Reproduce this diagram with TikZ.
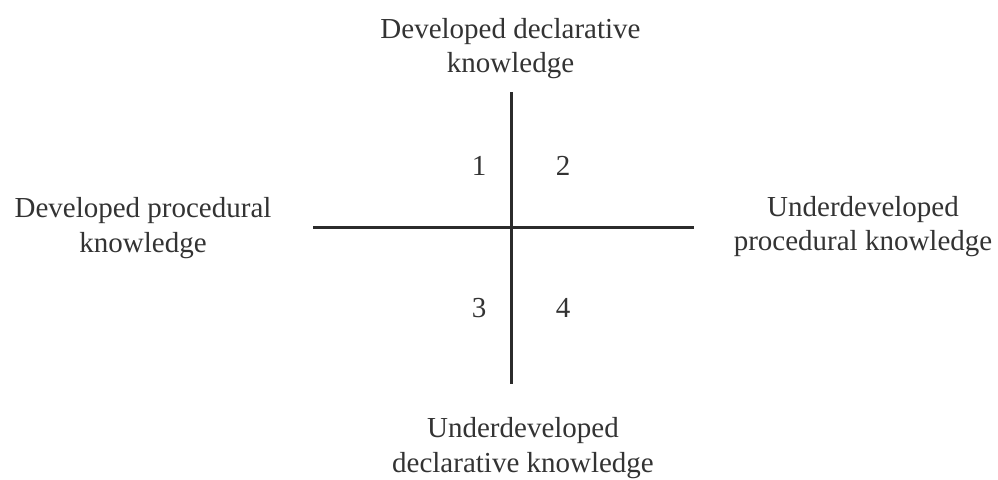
\documentclass[tikz,border=0pt]{standalone}
\usepackage{fontspec}
\setmainfont{Liberation Serif}
\definecolor{ink}{HTML}{333333}
\definecolor{axis}{HTML}{2B2B2B}
\begin{document}
\begin{tikzpicture}[x=1pt,y=-1pt,
  lbl/.style={inner sep=0pt, align=center, text=ink, font=\fontsize{29}{34.5}\selectfont},
  num/.style={inner sep=0pt, anchor=base, text=ink, font=\fontsize{29}{34.5}\selectfont},
  axisline/.style={draw=axis, line width=3pt}]
\useasboundingbox (0,0) rectangle (998,479);
\coordinate (vtop) at (511,92);
\coordinate (vbot) at (511,384);
\coordinate (hl) at (313,227);
\coordinate (hr) at (694,227);
\draw[axisline] (vtop) -- (vbot);
\draw[axisline] (hl) -- (hr);
\node[lbl] (top) at (510.5,48.5) {Developed declarative\\knowledge};
\node[lbl] (left) at (143,228.2) {Developed procedural\\knowledge};
\node[lbl] (right) at (863,226.7) {Underdeveloped\\procedural knowledge};
\node[lbl] (bottom) at (523,448.3) {Underdeveloped\\declarative knowledge};
\node[num] (q1) at (479,175) {1};
\node[num] (q2) at (563,175) {2};
\node[num] (q3) at (479,317) {3};
\node[num] (q4) at (563,317) {4};
\end{tikzpicture}
\end{document}
